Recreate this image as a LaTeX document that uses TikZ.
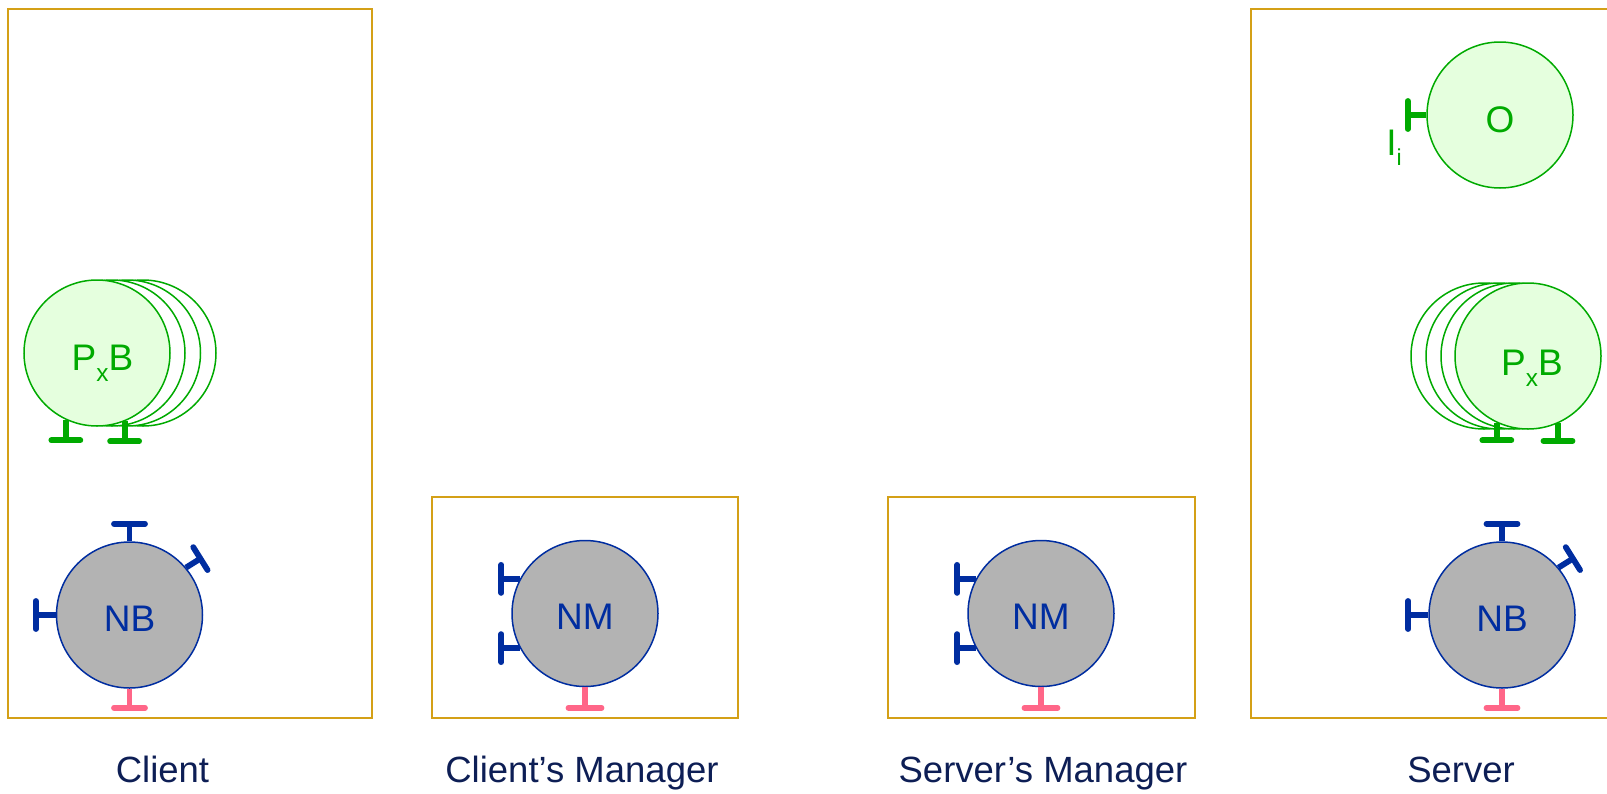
\documentclass[tikz,border=0pt]{standalone}
\usepackage{fontspec}
\setmainfont{Liberation Sans}
\definecolor{boxgold}{RGB}{212,160,23}
\definecolor{nblue}{RGB}{0,45,160}
\definecolor{ngray}{RGB}{179,179,179}
\definecolor{npink}{RGB}{255,102,136}
\definecolor{pgreen}{RGB}{0,170,0}
\definecolor{pfill}{RGB}{229,255,222}
\definecolor{labnavy}{RGB}{13,30,85}
\newcommand\teestub[5]{%
  \draw[#5, line cap=butt] (#1) -- ++({cos(#2)*(#3)},{-sin(#2)*(#3)}) coordinate (tee);
  \draw[#5] ([shift={({-sin(#2)*(#4)},{-cos(#2)*(#4)})}]tee) -- ([shift={({sin(#2)*(#4)},{cos(#2)*(#4)})}]tee);
}
\begin{document}
\begin{tikzpicture}[x=0.5pt,y=-0.5pt,
  boxc/.style={draw=boxgold, line width=1pt},
  nbc/.style={circle, draw=nblue, fill=ngray, line width=0.75pt, minimum size=73pt, inner sep=0pt, text=nblue, font=\fontsize{18.5}{22}\selectfont, text height=16pt, text depth=0pt},
  pxc/.style={circle, draw=pgreen, fill=pfill, line width=0.75pt, minimum size=73pt, inner sep=0pt, text=pgreen, font=\fontsize{18.5}{22}\selectfont},
  pxback/.style={pxc, fill=white},
  pxtext/.style={text=pgreen, font=\fontsize{18.5}{22}\selectfont, anchor=base, inner sep=0pt},
  bstub/.style={draw=nblue, line width=2.9pt, line cap=round},
  gstub/.style={draw=pgreen, line width=2.9pt, line cap=round},
  pstub/.style={draw=npink, line width=2.9pt, line cap=round},
  lab/.style={text=labnavy, font=\fontsize{18.25}{22}\selectfont, anchor=base, inner sep=0pt}
]
\useasboundingbox (0,0) rectangle (1607,793);

% ---------- Client ----------
\draw[boxc] (8,8.5) rectangle (372,718);
\node[pxback] (cpx3) at (143,353) {};
\node[pxback] (cpx2) at (127.5,353) {};
\node[pxback] (cpx1) at (112,353) {};
\node[pxc] (cpx) at (97,353) {};
\node[pxtext] (cpxt) at (102.5,370.7) {P\raisebox{-5.5pt}{\fontsize{12.2}{14}\selectfont x}B};
\teestub{cpx.245.7}{-90}{20.5}{14.5}{gstub}
\teestub{cpx.292.6}{-90}{20}{14.5}{gstub}

\node[nbc] (cnb) at (129.5,615) {NB};
\teestub{cnb.north}{90}{17.5}{15.5}{bstub}
\teestub{cnb.40}{32}{17}{13.5}{bstub}
\teestub{cnb.west}{180}{20}{14}{bstub}
\teestub{cnb.south}{-90}{19}{15.5}{pstub}
\node[lab] (lclient) at (162.5,782.7) {Client};

% ---------- Client's Manager ----------
\draw[boxc] (431.5,497) rectangle (738,718);
\node[nbc] (cnm) at (585,613.5) {NM};
\teestub{cnm.152}{180}{18.5}{14}{bstub}
\teestub{cnm.208}{180}{18.5}{14}{bstub}
\teestub{cnm.south}{-90}{20.5}{16.5}{pstub}
\node[lab] (lcm) at (582,782.7) {Client’s Manager};

% ---------- Server's Manager ----------
\draw[boxc] (887.5,497) rectangle (1194.5,718);
\node[nbc] (snm) at (1041,613.5) {NM};
\teestub{snm.152}{180}{18.5}{14}{bstub}
\teestub{snm.208}{180}{18.5}{14}{bstub}
\teestub{snm.south}{-90}{20.5}{16.5}{pstub}
\node[lab] (lsm) at (1043,782.7) {Server’s Manager};

% ---------- Server ----------
\draw[boxc] (1615,9) -- (1250.5,9) -- (1250.5,718) -- (1615,718);
\node[pxc, text height=17.5pt, text depth=0pt] (so) at (1500,115) {O};
\teestub{so.west}{180}{18.5}{14}{gstub}
\node[pxtext, anchor=base west] (sii) at (1386,155) {I\raisebox{-5pt}{\fontsize{11.5}{13}\selectfont i}};

\node[pxback] (spx3) at (1484,356) {};
\node[pxback] (spx2) at (1499,356) {};
\node[pxback] (spx1) at (1514,356) {};
\node[pxc] (spx) at (1528,356) {};
\node[pxtext] (spxt) at (1532,375) {P\raisebox{-5.5pt}{\fontsize{12.2}{14}\selectfont x}B};
\teestub{spx.245.7}{-90}{17.5}{14.5}{gstub}
\teestub{spx.294.3}{-90}{17.5}{14.5}{gstub}

\node[nbc] (snb) at (1502,615) {NB};
\teestub{snb.north}{90}{17.5}{15.5}{bstub}
\teestub{snb.40}{32}{17}{13.5}{bstub}
\teestub{snb.west}{180}{20}{14}{bstub}
\teestub{snb.south}{-90}{19}{15.5}{pstub}
\node[lab] (lserver) at (1461,782.7) {Server};
\end{tikzpicture}
\end{document}
